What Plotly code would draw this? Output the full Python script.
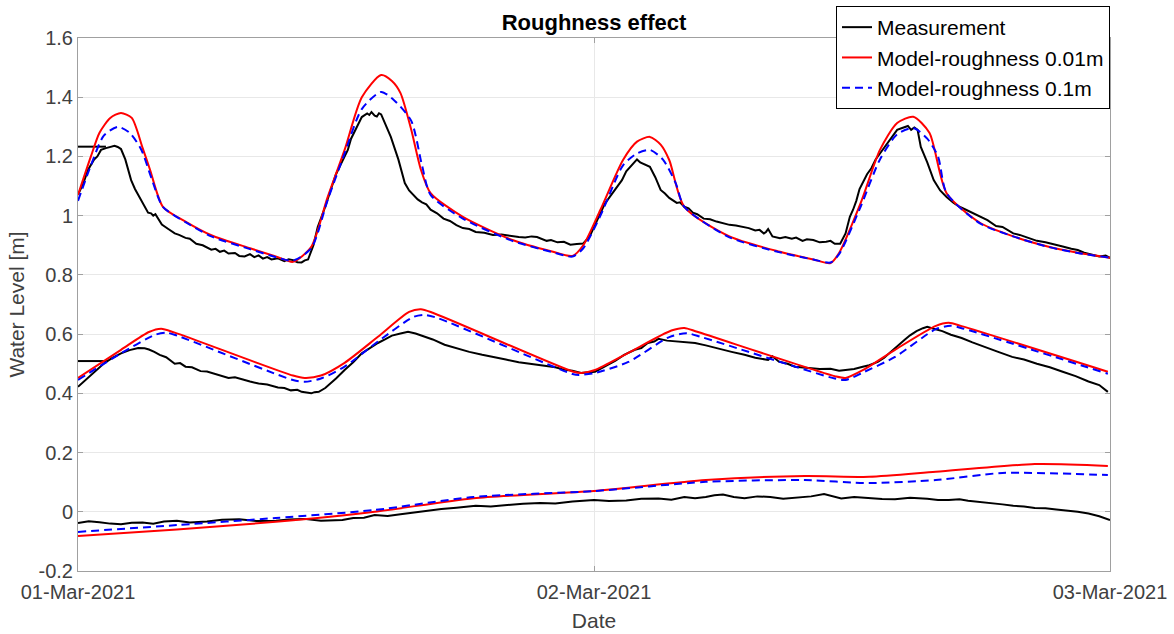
import pandas as pd
import plotly.graph_objects as go

START = pd.Timestamp("2021-03-01")

# ---------------- data: (hours since 01-Mar-2021 00:00, water level in m) -------------
# Upper station – measurement
top_meas = [(0, 1.07), (0.25, 1.11), (0.47, 1.155), (0.75, 1.19), (0.9, 1.2), (1.07, 1.222), (1.3, 1.228),
            (1.5, 1.232), (1.7, 1.236), (1.85, 1.232), (2.0, 1.225), (2.2, 1.19), (2.35, 1.15), (2.47, 1.12),
            (2.65, 1.09), (2.8, 1.07), (3.0, 1.045), (3.26, 1.01), (3.4, 1.008), (3.5, 1.0), (3.6, 1.005),
            (3.9, 0.97), (4.2, 0.955), (4.5, 0.94), (4.7, 0.935), (5.0, 0.925), (5.2, 0.922), (5.5, 0.905),
            (5.8, 0.9), (6.0, 0.892), (6.2, 0.885), (6.4, 0.888), (6.6, 0.878), (6.8, 0.882), (7.0, 0.872),
            (7.3, 0.874), (7.5, 0.864), (7.75, 0.862), (8.0, 0.87), (8.2, 0.86), (8.4, 0.866), (8.6, 0.855),
            (8.8, 0.86), (9.0, 0.852), (9.3, 0.856), (9.6, 0.846), (9.8, 0.853), (10.0, 0.85), (10.2, 0.843),
            (10.4, 0.842), (10.55, 0.849), (10.7, 0.852), (10.95, 0.9), (11.15, 0.962), (11.3, 0.99),
            (11.5, 1.03), (11.8, 1.097), (12.0, 1.14), (12.2, 1.17), (12.4, 1.2), (12.55, 1.222),
            (12.7, 1.26), (12.9, 1.29), (13.2, 1.333), (13.45, 1.345), (13.55, 1.34), (13.65, 1.35),
            (13.8, 1.338), (13.9, 1.335), (14.0, 1.346), (14.1, 1.342), (14.3, 1.31), (14.55, 1.266),
            (14.9, 1.19), (15.2, 1.11), (15.4, 1.085), (15.6, 1.07), (15.8, 1.055), (16.0, 1.045),
            (16.2, 1.038), (16.4, 1.02), (16.7, 1.008), (17.0, 0.99), (17.3, 0.982), (17.6, 0.968),
            (17.9, 0.958), (18.2, 0.955), (18.5, 0.945), (18.9, 0.942), (19.3, 0.935), (19.7, 0.936),
            (20.2, 0.93), (20.5, 0.928), (20.8, 0.926), (21.1, 0.93), (21.35, 0.928), (21.6, 0.92),
            (21.8, 0.915), (22.0, 0.918), (22.3, 0.91), (22.6, 0.912), (22.9, 0.902), (23.2, 0.904),
            (23.5, 0.906), (23.8, 0.93), (24.0, 0.96), (24.3, 1.01), (24.5, 1.04), (24.7, 1.06),
            (25.05, 1.097), (25.3, 1.12), (25.5, 1.15), (25.8, 1.175), (26.0, 1.19), (26.15, 1.18),
            (26.3, 1.175), (26.6, 1.165), (26.85, 1.13), (27.1, 1.087), (27.3, 1.075), (27.5, 1.06),
            (27.85, 1.043), (28.0, 1.045), (28.2, 1.03), (28.4, 1.025), (28.6, 1.01), (28.8, 1.005),
            (29.1, 0.99), (29.4, 0.988), (29.7, 0.98), (30.0, 0.975), (30.3, 0.969), (30.6, 0.967),
            (30.9, 0.963), (31.2, 0.958), (31.5, 0.95), (31.7, 0.952), (31.9, 0.94), (32.0, 0.945),
            (32.1, 0.955), (32.3, 0.93), (32.65, 0.924), (32.9, 0.928), (33.2, 0.922), (33.4, 0.926),
            (33.7, 0.915), (33.9, 0.92), (34.2, 0.918), (34.5, 0.91), (34.8, 0.912), (35.0, 0.915),
            (35.2, 0.905), (35.45, 0.905), (35.7, 0.94), (35.9, 0.996), (36.05, 1.02), (36.2, 1.05),
            (36.35, 1.09), (36.5, 1.11), (36.7, 1.14), (36.9, 1.16), (37.1, 1.19), (37.3, 1.21),
            (37.5, 1.23), (37.7, 1.25), (37.9, 1.27), (38.1, 1.29), (38.3, 1.295), (38.45, 1.3),
            (38.6, 1.303), (38.75, 1.29), (38.9, 1.298), (39.05, 1.29), (39.2, 1.232), (39.5, 1.18),
            (39.8, 1.12), (40.1, 1.085), (40.4, 1.063), (40.7, 1.045), (41.0, 1.03), (41.3, 1.02),
            (41.6, 1.01), (41.95, 0.996), (42.3, 0.985), (42.7, 0.965), (43.0, 0.962), (43.5, 0.94),
            (43.8, 0.935), (44.2, 0.925), (44.6, 0.915), (45.0, 0.91), (45.4, 0.904), (45.8, 0.896),
            (46.2, 0.888), (46.5, 0.884), (46.8, 0.875), (47.2, 0.868), (47.5, 0.862), (47.8, 0.865),
            (48.0, 0.857)]
top_meas_flat = [(0, 1.233), (1.3, 1.233)]

top_r001_h = [0, 0.6, 1.0, 1.5, 2.0, 2.5, 3.0, 3.35, 3.95, 5.0, 6.2, 8.0, 9.3, 10.0, 10.85, 11.6, 12.4,
              13.2, 14.1, 14.6, 15.0, 15.5, 15.95, 16.4, 17.9, 20.2, 22.0, 23.0, 23.5, 24.3, 25.35,
              26.0, 26.6, 27.1, 27.5, 28.2, 30.3, 32.65, 34.2, 35.0, 35.4, 36.4, 37.3, 38.1, 38.85,
              39.6, 40.4, 41.95, 43.5, 45.1, 46.5, 48.0]
top_r001_v = [1.07, 1.20, 1.28, 1.33, 1.347, 1.33, 1.23, 1.155, 1.03, 0.98, 0.934, 0.89, 0.86, 0.844,
              0.895, 1.06, 1.222, 1.40, 1.475, 1.455, 1.414, 1.29, 1.155, 1.076, 0.996, 0.918, 0.88,
              0.864, 0.9, 1.02, 1.188, 1.25, 1.266, 1.24, 1.188, 1.03, 0.93, 0.878, 0.852, 0.84, 0.874,
              1.042, 1.222, 1.313, 1.334, 1.28, 1.076, 0.976, 0.93, 0.896, 0.875, 0.858]

top_r01_h = [0, 0.6, 1.2, 1.85, 2.4, 2.95, 3.4, 3.95, 5.0, 6.2, 8.0, 9.3, 10.0, 10.85, 11.6, 12.4, 13.2,
             14.1, 14.7, 15.5, 16.0, 16.4, 17.9, 20.2, 22.0, 23.0, 23.5, 24.3, 25.35, 26.0, 26.6, 27.2,
             27.8, 28.2, 30.3, 32.65, 34.2, 35.0, 35.4, 36.4, 37.3, 38.1, 38.85, 39.5, 40.0, 40.4,
             41.95, 43.5, 45.1, 46.5, 48.0]
top_r01_v = [1.05, 1.17, 1.27, 1.30, 1.28, 1.222, 1.13, 1.03, 0.978, 0.93, 0.887, 0.858, 0.848, 0.89,
             1.05, 1.21, 1.36, 1.418, 1.39, 1.32, 1.17, 1.07, 0.99, 0.915, 0.878, 0.862, 0.89, 1.0,
             1.17, 1.21, 1.222, 1.19, 1.11, 1.03, 0.927, 0.876, 0.852, 0.842, 0.87, 1.03, 1.19, 1.275,
             1.296, 1.26, 1.20, 1.076, 0.974, 0.93, 0.895, 0.874, 0.858]

# Middle station – measurement
mid_meas = [(0, 0.422), (0.5, 0.455), (1.24, 0.503), (1.6, 0.52), (2.0, 0.535), (2.4, 0.546), (2.8, 0.553),
            (3.1, 0.552), (3.3, 0.548), (3.55, 0.54), (3.8, 0.53), (4.1, 0.522), (4.5, 0.5), (4.75, 0.502),
            (5.0, 0.49), (5.3, 0.488), (5.7, 0.475), (6.0, 0.474), (6.3, 0.468), (6.6, 0.462), (7.0, 0.452),
            (7.3, 0.454), (7.7, 0.445), (8.0, 0.44), (8.4, 0.433), (8.8, 0.43), (9.3, 0.42), (9.6, 0.418),
            (9.9, 0.41), (10.2, 0.412), (10.4, 0.405), (10.6, 0.402), (10.85, 0.4), (11.0, 0.404),
            (11.2, 0.405), (11.5, 0.418), (12.0, 0.45), (12.4, 0.479), (12.8, 0.505), (13.2, 0.535),
            (13.6, 0.555), (13.95, 0.57), (14.3, 0.583), (14.6, 0.595), (15.0, 0.602), (15.35, 0.608),
            (15.7, 0.602), (16.0, 0.595), (16.5, 0.582), (17.05, 0.564), (17.6, 0.552), (18.2, 0.54),
            (18.8, 0.53), (19.4, 0.52), (19.9, 0.514), (20.5, 0.505), (21.1, 0.5), (21.7, 0.493),
            (22.2, 0.488), (22.6, 0.48), (23.0, 0.476), (23.4, 0.469), (24.05, 0.473), (24.5, 0.49),
            (25.0, 0.51), (25.4, 0.53), (25.9, 0.547), (26.2, 0.553), (26.5, 0.57), (26.8, 0.575),
            (27.0, 0.584), (27.4, 0.578), (27.8, 0.575), (28.2, 0.574), (28.7, 0.57), (29.2, 0.562),
            (29.8, 0.55), (30.4, 0.54), (31.0, 0.53), (31.5, 0.52), (32.1, 0.513), (32.3, 0.525),
            (32.6, 0.507), (33.0, 0.5), (33.35, 0.49), (33.9, 0.486), (34.5, 0.482), (35.0, 0.483),
            (35.4, 0.476), (35.7, 0.479), (36.1, 0.482), (36.5, 0.49), (36.8, 0.495), (37.2, 0.506),
            (37.5, 0.52), (37.8, 0.54), (38.1, 0.56), (38.45, 0.581), (38.7, 0.596), (39.0, 0.61),
            (39.3, 0.62), (39.5, 0.625), (39.8, 0.618), (40.2, 0.61), (40.6, 0.598), (41.1, 0.587),
            (41.6, 0.572), (42.2, 0.555), (42.8, 0.54), (43.45, 0.523), (44.0, 0.514), (44.6, 0.5),
            (45.2, 0.488), (45.8, 0.473), (46.4, 0.458), (47.0, 0.44), (47.5, 0.428), (47.9, 0.405)]
mid_meas_flat = [(0, 0.509), (1.35, 0.509)]

mid_r001_h = [0, 2.0, 3.3, 3.87, 4.5, 10.0, 10.55, 11.3, 12.4, 13.95, 15.4, 15.95, 16.5, 23.0, 23.4,
              24.05, 25.6, 27.6, 28.2, 28.8, 35.2, 35.7, 36.5, 38.0, 39.9, 40.5, 41.1, 47.9]
mid_r001_v = [0.452, 0.547, 0.607, 0.618, 0.605, 0.46, 0.452, 0.46, 0.503, 0.591, 0.675, 0.684, 0.672,
              0.474, 0.469, 0.479, 0.537, 0.612, 0.621, 0.608, 0.458, 0.452, 0.478, 0.547, 0.628,
              0.638, 0.627, 0.473]

mid_r01_h = [0, 2.0, 3.6, 4.1, 4.6, 10.0, 10.55, 11.3, 12.4, 13.95, 15.6, 16.1, 16.7, 23.0, 23.3, 24.05,
             25.6, 27.5, 28.3, 29.0, 35.2, 35.7, 36.5, 38.0, 39.9, 40.6, 41.2, 47.9]
mid_r01_v = [0.445, 0.535, 0.598, 0.605, 0.595, 0.445, 0.439, 0.45, 0.49, 0.575, 0.658, 0.665, 0.655,
             0.465, 0.462, 0.469, 0.506, 0.59, 0.603, 0.59, 0.45, 0.445, 0.47, 0.523, 0.617, 0.628,
             0.618, 0.466]

# Lower station – measurement
low_meas = [(0, -0.038), (0.5, -0.032), (1, -0.035), (1.5, -0.04), (2, -0.042), (2.5, -0.037), (3, -0.036),
            (3.5, -0.04), (4, -0.033), (4.6, -0.03), (5.2, -0.036), (6, -0.033), (6.7, -0.027), (7.5, -0.025),
            (8.3, -0.031), (9.2, -0.03), (9.8, -0.026), (10.5, -0.024), (11.3, -0.03), (12.3, -0.028),
            (12.8, -0.021), (13.3, -0.02), (13.8, -0.011), (14.4, -0.014), (15, -0.008), (15.6, -0.002),
            (16.2, 0.004), (16.9, 0.009), (17.6, 0.014), (18.5, 0.02), (19.2, 0.018), (20, 0.024),
            (20.7, 0.027), (21.5, 0.03), (22.2, 0.028), (23, 0.035), (23.5, 0.037), (24, 0.04), (24.7, 0.036),
            (25.5, 0.038), (26.2, 0.044), (27, 0.045), (27.6, 0.041), (28.2, 0.05), (28.7, 0.046),
            (29.2, 0.05), (29.6, 0.056), (30, 0.058), (30.5, 0.05), (31, 0.046), (31.6, 0.052), (32.2, 0.05),
            (32.8, 0.044), (33.5, 0.048), (34.1, 0.052), (34.7, 0.06), (35.1, 0.052), (35.5, 0.045),
            (36.1, 0.05), (36.8, 0.046), (37.4, 0.043), (38, 0.042), (38.7, 0.047), (39.5, 0.044), (40, 0.04),
            (40.5, 0.04), (41, 0.042), (41.4, 0.037), (42, 0.033), (42.5, 0.03), (43, 0.025), (43.5, 0.02),
            (44, 0.018), (44.5, 0.013), (45, 0.012), (45.5, 0.008), (46, 0.005), (46.5, 0.0), (47, -0.006),
            (47.5, -0.015), (48, -0.028)]

low_r001_h = [0, 4.6, 9.2, 13.8, 18.4, 24, 29.2, 33.8, 36.8, 39.9, 44.5, 47.9]
low_r001_v = [-0.082, -0.06, -0.034, 0.0, 0.046, 0.07, 0.107, 0.121, 0.118, 0.135, 0.161, 0.155]

low_r01_h = [0, 4.6, 9.2, 13.8, 18.4, 24, 29.2, 33.8, 36.8, 39.9, 43, 47.9]
low_r01_v = [-0.068, -0.045, -0.021, 0.006, 0.05, 0.07, 0.101, 0.107, 0.097, 0.107, 0.131, 0.124]

y_ticks = [-0.2, 0, 0.2, 0.4, 0.6, 0.8, 1, 1.2, 1.4, 1.6]
y_tick_text = ["-0.2", "0", "0.2", "0.4", "0.6", "0.8", "1", "1.2", "1.4", "1.6"]
x_tick_dates = ["2021-03-01", "2021-03-02", "2021-03-03"]
x_tick_text = ["01-Mar-2021", "02-Mar-2021", "03-Mar-2021"]


def to_t(hours):
    return [START + pd.Timedelta(hours=h) for h in hours]


def split(pairs):
    return [p[0] for p in pairs], [p[1] for p in pairs]


FONT = "Liberation Sans, Arial, sans-serif"
fig = go.Figure()

meas_sets = [split(top_meas_flat), split(top_meas), split(mid_meas_flat), split(mid_meas), split(low_meas)]
r001_sets = [(top_r001_h, top_r001_v), (mid_r001_h, mid_r001_v), (low_r001_h, low_r001_v)]
r01_sets = [(top_r01_h, top_r01_v), (mid_r01_h, mid_r01_v), (low_r01_h, low_r01_v)]

for i, (h, v) in enumerate(meas_sets):
    fig.add_trace(go.Scatter(x=to_t(h), y=v, mode="lines", name="Measurement",
                             legendgroup="meas", showlegend=(i == 0), legendrank=1,
                             line=dict(color="#000000", width=2)))
for i, (h, v) in enumerate(r001_sets):
    fig.add_trace(go.Scatter(x=to_t(h), y=v, mode="lines", name="Model-roughness 0.01m",
                             legendgroup="r001", showlegend=(i == 0), legendrank=2,
                             line=dict(color="#ff0000", width=2, shape="spline", smoothing=0.7)))
for i, (h, v) in enumerate(r01_sets):
    fig.add_trace(go.Scatter(x=to_t(h), y=v, mode="lines", name="Model-roughness 0.1m",
                             legendgroup="r01", showlegend=(i == 0), legendrank=3,
                             line=dict(color="#0000ff", width=2, dash="8px,5px",
                                       shape="spline", smoothing=0.7)))

axis_common = dict(showline=True, linecolor="#a0a0a0", linewidth=1, mirror="ticks",
                   ticks="inside", ticklen=5, tickcolor="#a0a0a0",
                   showgrid=True, gridcolor="#e8e8e8", gridwidth=1, zeroline=False,
                   tickfont=dict(family=FONT, size=20, color="#404040"))

fig.update_xaxes(type="date", range=[x_tick_dates[0], x_tick_dates[-1]],
                 tickvals=x_tick_dates, ticktext=x_tick_text, ticklabelstandoff=3,
                 title=dict(text="Date", font=dict(family=FONT, size=21, color="#404040"), standoff=11),
                 **axis_common)
fig.update_yaxes(range=[-0.2, 1.6], tickvals=y_ticks, ticktext=y_tick_text,
                 title=dict(text="Water Level [m]", font=dict(family=FONT, size=21, color="#404040"),
                            standoff=8),
                 **axis_common)

fig.update_layout(
    width=1174, height=634,
    margin=dict(l=78, r=64, t=38, b=63, autoexpand=False),
    paper_bgcolor="white", plot_bgcolor="white",
    title=dict(text="<b>Roughness effect</b>", x=0.5, xanchor="center", xref="paper",
               y=1 - 22 / 634, yanchor="middle",
               font=dict(family=FONT, size=22, color="#000000")),
    legend=dict(x=1, xanchor="right", y=1 + 32 / 533, yanchor="top",
                bgcolor="white", bordercolor="#000000", borderwidth=1,
                font=dict(family=FONT, size=21, color="#000000"),
                tracegroupgap=0),
    showlegend=True,
)

fig.write_html("out.html")
